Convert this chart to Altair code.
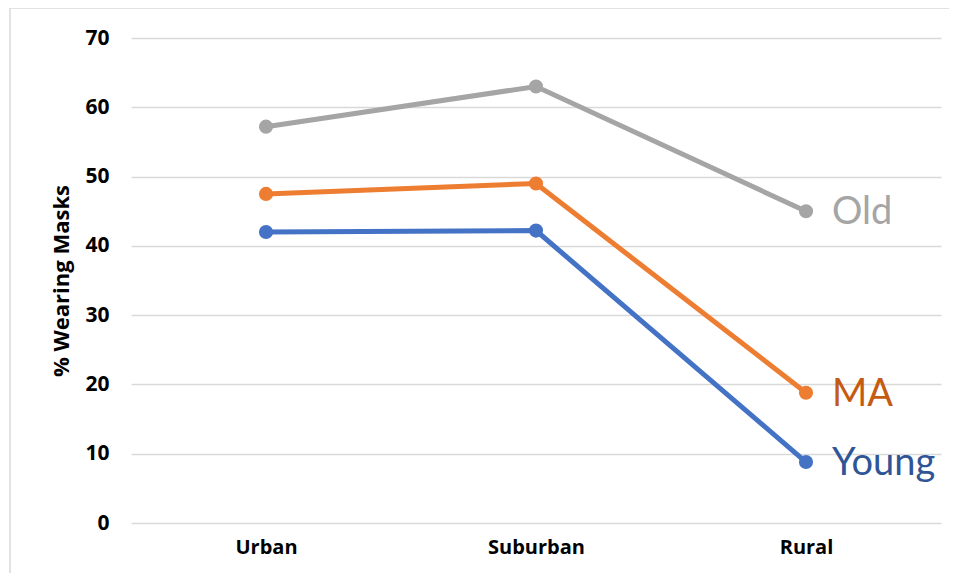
import altair as alt
import pandas as pd

categories = ["Urban", "Suburban", "Rural"]
series_names = ["Old", "MA", "Young"]
old_vals = [57.2, 63.0, 45.0]
ma_vals = [47.5, 49.0, 18.8]
young_vals = [42.0, 42.2, 8.8]

line_colors = ["#a5a5a5", "#ed7d31", "#4472c4"]
label_colors = ["#a5a5a5", "#c55a11", "#2f5597"]

rows = []
for name, vals in zip(series_names, [old_vals, ma_vals, young_vals]):
    for c, v in zip(categories, vals):
        rows.append({"Area": c, "Group": name, "Value": v})
df = pd.DataFrame(rows)

x = alt.X("Area:N", sort=categories, title=None,
          scale=alt.Scale(type="point", padding=0.5),
          axis=alt.Axis(labelAngle=0, ticks=False, domain=False, grid=False,
                        labelFont="Open Sans", labelFontWeight="bold",
                        labelFontSize=20, labelColor="#000000", labelPadding=14))
y = alt.Y("Value:Q", title="% Wearing Masks",
          scale=alt.Scale(domain=[0, 70], nice=False),
          axis=alt.Axis(values=[0, 10, 20, 30, 40, 50, 60, 70], ticks=False,
                        domain=False, grid=True, gridColor="#d9d9d9", gridWidth=1.5,
                        labelFont="Open Sans", labelFontWeight="bold",
                        labelFontSize=21, labelColor="#000000", labelPadding=22,
                        titleFont="Open Sans", titleFontWeight="bold",
                        titleFontSize=22, titleColor="#000000", titlePadding=11))

color = alt.Color("Group:N", sort=series_names,
                  scale=alt.Scale(domain=series_names, range=line_colors), legend=None)

base = alt.Chart(df)

frame = alt.Chart(pd.DataFrame({"k": [0]})).mark_rect(
    fill=None, stroke="#d9d9d9", strokeWidth=1.5
).encode(x=alt.value(-121), x2=alt.value(850), y=alt.value(-30), y2=alt.value(560))

lines = base.mark_line(strokeWidth=5).encode(x=x, y=y, color=color, detail="Group:N")
points = base.mark_circle(size=200, opacity=1).encode(x=x, y=y, color=color)

labels = base.transform_filter(alt.datum.Area == "Rural").mark_text(
    align="left", baseline="middle", dx=26, dy=2, font="Lato", fontSize=38
).encode(
    x=x, y=y, text="Group:N",
    color=alt.Color("Group:N", scale=alt.Scale(domain=series_names, range=label_colors),
                    legend=None)
)

chart = alt.layer(frame, lines, points, labels).resolve_scale(color="independent").properties(
    width=810, height=485,
    autosize=alt.AutoSizeParams(type="none"),
    padding={"left": 123, "top": 30, "right": 8, "bottom": 50},
    background="#ffffff"
).configure_view(stroke=None)

chart.save("out.html", embed_options={"renderer": "svg", "actions": False})
